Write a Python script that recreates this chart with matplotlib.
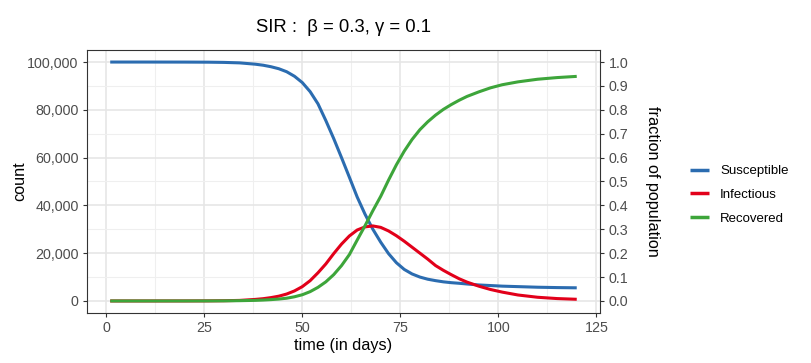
import matplotlib
matplotlib.use("Agg")
import matplotlib.pyplot as plt
from matplotlib.ticker import FuncFormatter, MultipleLocator

plt.rcParams['font.family'] = ['Liberation Sans', 'DejaVu Sans']

# values
days = [1, 10, 20, 26, 30, 34, 38, 40, 42, 44, 46, 48, 50, 52, 54, 56, 58, 60,
        62, 64, 66, 68, 70, 72, 74, 76, 78, 80, 82, 84, 86, 88, 90, 92, 95, 98,
        101, 105, 110, 115, 120]
susceptible = [99999, 99997, 99980, 99940, 99850, 99650, 99100, 98670, 98040,
               97200, 95950, 94050, 91400, 87600, 82500, 75500, 68000, 60000,
               51800, 43500, 36300, 30000, 24600, 19800, 16000, 13200, 11300,
               10000, 9100, 8500, 8000, 7650, 7400, 7100, 6700, 6450, 6200,
               6000, 5750, 5600, 5500]
infectious = [1, 3, 14, 40, 100, 230, 650, 950, 1400, 2000, 2900, 4200, 6000,
              8500, 11800, 15500, 19800, 23800, 27200, 29700, 31000, 31400,
              30800, 29300, 27300, 25000, 22500, 20000, 17500, 14800, 12800,
              11000, 9300, 7900, 6200, 4800, 3700, 2500, 1550, 1000, 700]
recovered = [0, 1, 6, 20, 50, 120, 250, 380, 560, 800, 1150, 1750, 2600, 3900,
             5700, 8000, 11000, 14800, 19400, 25500, 31500, 37800, 43800,
             50600, 57000, 62700, 67600, 71700, 75000, 77800, 80200, 82200,
             84000, 85600, 87500, 89200, 90500, 91700, 92800, 93500, 94000]
series_names = ['Susceptible', 'Infectious', 'Recovered']
colors = ['#2B6CB0', '#E2001A', '#3DA53A']
population = 100000

fig = plt.figure(figsize=(8.12, 3.63), dpi=100)
ax = fig.add_axes([0.107, 0.138, 0.632, 0.724])

for vals, name, col in zip([susceptible, infectious, recovered], series_names, colors):
    ax.plot(days, vals, color=col, lw=2.2, label=name, solid_capstyle='butt',
            solid_joinstyle='round', zorder=3)

ax.set_xlim(-4.95, 125.95)
ax.set_ylim(-5000, 105000)
ax.xaxis.set_major_locator(MultipleLocator(25))
ax.xaxis.set_minor_locator(MultipleLocator(12.5))
ax.yaxis.set_major_locator(MultipleLocator(20000))
ax.yaxis.set_minor_locator(MultipleLocator(10000))
ax.yaxis.set_major_formatter(FuncFormatter(lambda v, p: f'{int(v):,}'))

# theme_bw style grid
ax.grid(which='major', color='#E6E6E6', lw=1.2, zorder=0)
ax.grid(which='minor', color='#EFEFEF', lw=0.8, zorder=0)
ax.set_axisbelow(True)
for s in ax.spines.values():
    s.set_color('#333333')
    s.set_linewidth(0.8)
ax.tick_params(which='major', length=3, width=0.8, color='#333333',
               labelsize=10.3, labelcolor='#4D4D4D', pad=3)
ax.tick_params(which='minor', length=0)

# secondary axis: fraction of population
ax2 = ax.twinx()
ax2.set_ylim(-5000 / population, 105000 / population)
ax2.yaxis.set_major_locator(MultipleLocator(0.1))
ax2.yaxis.set_major_formatter(FuncFormatter(lambda v, p: f'{v:.1f}'))
ax2.tick_params(length=3, width=0.8, color='#333333', labelsize=10.3,
                labelcolor='#4D4D4D', pad=3)
for s in ax2.spines.values():
    s.set_visible(False)

# axis titles
fig.text(0.0246, 0.5, 'count', rotation=90, ha='center', va='center', fontsize=11.7)
fig.text(0.803, 0.5, 'fraction of population', rotation=270, ha='center',
         va='center', fontsize=11.7)
fig.text(0.423, 0.047, 'time (in days)', ha='center', va='center', fontsize=11.7)
fig.text(0.423, 0.923, 'SIR :  β = 0.3, γ = 0.1', ha='center', va='center', fontsize=13.3)

handles, labels = ax.get_legend_handles_labels()
leg = fig.legend(handles, labels, loc='center left', bbox_to_anchor=(0.8498, 0.463),
                 frameon=False, fontsize=9.5, handlelength=1.44, handletextpad=0.83,
                 labelspacing=0.86, borderpad=0, borderaxespad=0)
for line in leg.get_lines():
    line.set_linewidth(2.5)

fig.savefig('out.png', dpi=100)
